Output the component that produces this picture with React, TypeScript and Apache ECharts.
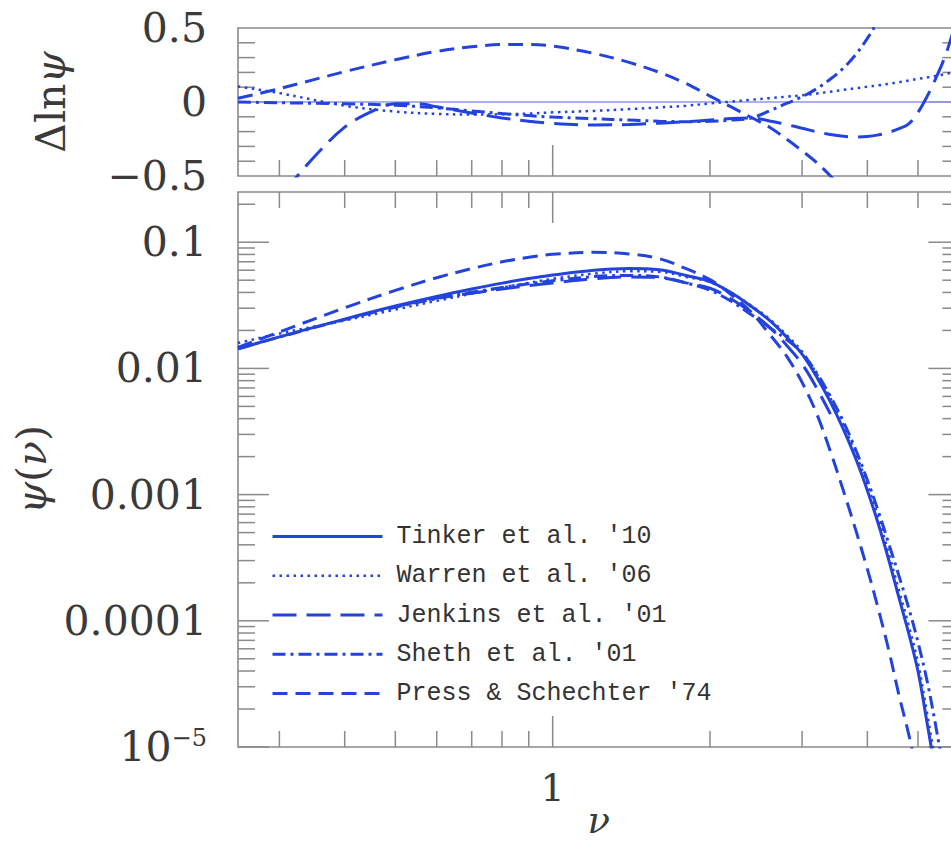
import React, { useEffect, useRef } from "react";
import * as echarts from "echarts";

// ---------- data ----------
const NU = [0.25, 0.3, 0.4, 0.5, 0.6, 0.7, 0.8, 0.9, 1.0, 1.2, 1.4, 1.6, 1.8, 2.0, 2.2, 2.4, 2.6, 2.8, 3.0, 3.2, 3.4, 3.6, 3.8, 4.0, 4.2, 4.4, 4.6, 4.8, 5.0, 5.2, 5.4, 5.6, 5.8, 6.0];

// lower panel: psi(nu)
const TINKER_PSI = [0.01429, 0.01778, 0.0246, 0.03119, 0.03715, 0.04256, 0.04742, 0.05152, 0.05495, 0.05998, 0.0618, 0.06053, 0.05445, 0.04875, 0.03954, 0.0309, 0.02399, 0.01778, 0.01297, 0.00857, 0.00541, 0.00329, 0.00193, 0.00108, 0.000582, 0.000299, 0.000151, 0.0000794, 0.0000398, 0.0000158, 0.0000063, 0.0000025, 0.0000008, 0.00000025];
const WARREN_PSI = [0.01588, 0.01888, 0.02399, 0.02924, 0.03428, 0.03908, 0.04365, 0.04764, 0.05129, 0.05649, 0.05888, 0.05834, 0.05309, 0.04831, 0.03963, 0.03136, 0.0246, 0.01845, 0.01358, 0.00908, 0.00579, 0.00357, 0.00211, 0.0012, 0.000652, 0.000337, 0.000173, 0.0000917, 0.0000465, 0.0000188, 0.0000076, 0.000003, 0.000001, 0.0000003];
const JENKINS_PSI = [null, null, null, 0.0309, 0.03606, 0.03945, 0.04256, 0.04529, 0.04753, 0.0514, 0.0531, 0.05248, 0.04764, 0.04315, 0.03532, 0.02773, 0.02118, 0.01531, 0.01084, 0.00698, 0.00434, null, null, null, null, null, null, null, null, null, null, null, null, null];
const SHETH_PSI = [0.0143, 0.0177, 0.02438, 0.03055, 0.03573, 0.04009, 0.04375, 0.04688, 0.04943, 0.05346, 0.05458, 0.05309, 0.04764, 0.0416, 0.0339, 0.0266, 0.02113, 0.01698, 0.01324, 0.00918, 0.006, 0.003776, 0.002265, 0.001303, 0.000733, 0.000403, 0.000225, 0.000126, 0.0000676, 0.0000339, 0.0000151, 0.0000063, 0.0000025, 0.000001];
const PS_PSI = [0.01466, 0.01945, 0.0302, 0.0415, 0.0523, 0.0618, 0.0699, 0.076, 0.0802, 0.0832, 0.0807, 0.074, 0.0617, 0.0505, 0.0382, 0.0278, 0.01862, 0.01259, 0.00776, 0.00437, 0.00219, 0.00107, 0.000525, 0.000257, 0.000123, 0.0000575, 0.0000255, 0.0000126, 0.0000056, 0.0000024, 0.0000009, 0.0000003, 0.0000001, 0.00000003];

// upper panel: Delta ln psi relative to Tinker et al. '10
const TINKER_DLN = NU.map(() => 0);
const WARREN_DLN = [0.105, 0.06, -0.025, -0.065, -0.08, -0.085, -0.083, -0.078, -0.07, -0.06, -0.048, -0.037, -0.025, -0.01, 0.003, 0.015, 0.026, 0.036, 0.045, 0.057, 0.07, 0.082, 0.093, 0.103, 0.113, 0.123, 0.134, 0.145, 0.156, 0.166, 0.176, 0.187, 0.198, 0.21];
const SHETH_DLN = [0.0, -0.005, -0.012, -0.022, -0.04, -0.06, -0.078, -0.092, -0.102, -0.113, -0.122, -0.13, -0.133, -0.13, -0.122, -0.108, -0.06, -0.01, 0.035, 0.09, 0.155, 0.229, 0.32, 0.43, 0.555, 0.7, null, null, null, null, null, null, null, null];
const PS_DLN = [0.025, 0.09, 0.205, 0.285, 0.342, 0.373, 0.388, 0.389, 0.378, 0.328, 0.268, 0.2, 0.125, 0.04, -0.035, -0.105, -0.17, -0.25, -0.33, -0.41, -0.5, -0.6, -0.7, -0.82, null, null, null, null, null, null, null, null, null, null];
const JENKINS_TOP_NU = [0.25, 0.3, 0.35, 0.4, 0.45, 0.5, 0.55, 0.6, 0.7, 0.8, 0.9, 1.0, 1.2, 1.4, 1.6, 1.8, 2.0, 2.2, 2.4, 2.6, 2.8, 3.0, 3.2, 3.4, 3.6, 3.8, 4.0, 4.2, 4.4, 4.6, 4.8, 5.0, 5.2, 5.4, 5.6, 5.8, 6.0];
const JENKINS_DLN = [-0.95, -0.64, -0.37, -0.17, -0.065, -0.012, -0.012, -0.032, -0.075, -0.108, -0.13, -0.145, -0.155, -0.152, -0.143, -0.133, -0.122, -0.112, -0.108, -0.128, -0.152, -0.177, -0.201, -0.22, -0.232, -0.236, -0.233, -0.222, -0.205, -0.18, -0.148, -0.07, 0.035, 0.155, 0.285, 0.445, 0.64];

const NAMES = ["Tinker et al. '10", "Warren et al. '06", "Jenkins et al. '01", "Sheth et al. '01", "Press & Schechter '74"];

// axes
const NU_RANGE = [0.25, 6];
const DLN_RANGE = [-0.5, 0.5];
const PSI_RANGE = [1e-5, 0.25];
const X_MINOR_TICKS = [0.3, 0.4, 0.5, 0.6, 0.7, 0.8, 0.9, 2, 3, 4, 5];
const X_MAJOR_TICKS = [1];
const DLN_MINOR_TICKS = [-0.4, -0.3, -0.2, -0.1, 0.1, 0.2, 0.3, 0.4];
const DLN_MAJOR_TICKS = [0];
const PSI_DECADES = [1e-5, 1e-4, 1e-3, 1e-2, 1e-1];

// ---------- helpers ----------
const pairs = (xs: number[], ys: (number | null)[]) =>
  xs.map((x, i) => [x, ys[i]]).filter((p) => p[1] !== null && p[1] !== undefined);

const BLUE = "#2343dc";
const FRAME = "#8a8a8a";
const SERIF = "'DejaVu Serif', serif";
const LBL = "#3a3a3a";
const MINOR = 17;
const MAJOR = 31;

const psiMinor: number[] = [];
PSI_DECADES.forEach((d) => {
  for (let k = 2; k <= 9; k++) {
    const v = k * d;
    if (v < PSI_RANGE[1]) psiMinor.push(v);
  }
});

function topTicks() {
  const t: number[][] = [];
  X_MINOR_TICKS.forEach((x) => t.push([x, DLN_RANGE[0], 0, -1, MINOR - 1]));
  X_MAJOR_TICKS.forEach((x) => t.push([x, DLN_RANGE[0], 0, -1, MAJOR]));
  DLN_MINOR_TICKS.forEach((y) => {
    t.push([NU_RANGE[0], y, 1, 0, MINOR]);
    t.push([NU_RANGE[1], y, -1, 0, MINOR]);
  });
  DLN_MAJOR_TICKS.forEach((y) => {
    t.push([NU_RANGE[0], y, 1, 0, MAJOR]);
    t.push([NU_RANGE[1], y, -1, 0, MAJOR]);
  });
  return t;
}

function bottomTicks() {
  const t: number[][] = [];
  X_MINOR_TICKS.forEach((x) => {
    t.push([x, PSI_RANGE[0], 0, -1, MINOR - 1]);
    t.push([x, PSI_RANGE[1], 0, 1, MINOR - 1]);
  });
  X_MAJOR_TICKS.forEach((x) => {
    t.push([x, PSI_RANGE[0], 0, -1, MAJOR]);
    t.push([x, PSI_RANGE[1], 0, 1, MAJOR]);
  });
  psiMinor.forEach((y) => {
    t.push([NU_RANGE[0], y, 1, 0, MINOR]);
    t.push([NU_RANGE[1], y, -1, 0, MINOR]);
  });
  PSI_DECADES.forEach((y) => {
    t.push([NU_RANGE[0], y, 1, 0, MAJOR]);
    t.push([NU_RANGE[1], y, -1, 0, MAJOR]);
  });
  return t;
}

const tickSeries = (xi: number, yi: number, data: number[][]) => ({
  type: "custom",
  xAxisIndex: xi,
  yAxisIndex: yi,
  silent: true,
  clip: false,
  z: 1,
  data,
  renderItem: (_p: any, api: any) => {
    const p = api.coord([api.value(0), api.value(1)]);
    const dx = api.value(2);
    const dy = api.value(3);
    const len = api.value(4);
    return {
      type: "line",
      shape: { x1: p[0], y1: p[1], x2: p[0] + dx * len, y2: p[1] + dy * len },
      style: { stroke: FRAME, lineWidth: 1.5 },
    };
  },
});

const STYLES: Record<string, any> = {
  [NAMES[0]]: { type: "solid", width: 3 },
  [NAMES[1]]: { type: [2.5, 4.5], width: 2.5 },
  [NAMES[2]]: { type: [24, 10], width: 3 },
  [NAMES[3]]: { type: [13, 5, 3, 5], width: 3 },
  [NAMES[4]]: { type: [15, 8], width: 3 },
};

const lineSeries = (name: string, xi: number, yi: number, data: any[], override?: any) => ({
  type: "line",
  name,
  xAxisIndex: xi,
  yAxisIndex: yi,
  data,
  symbol: "none",
  smooth: 0.35,
  clip: true,
  z: 3,
  lineStyle: { color: BLUE, ...STYLES[name], ...(override || {}) },
  itemStyle: { color: BLUE },
});

const logLabel = (v: number) => {
  const e = Math.round(Math.log10(v));
  if (Math.abs(Math.log10(v) - e) > 0.01) return "";
  if (e === -5) return "{b|10}{s|\u22125}";
  return "0." + "0".repeat(-e - 1) + "1";
};

export default function App() {
  const ref = useRef<HTMLDivElement>(null);
  useEffect(() => {
    if (!ref.current) return;
    const chart = echarts.init(ref.current, null, { renderer: "svg" });
    const axisCommon = {
      axisLine: { show: false },
      axisTick: { show: false },
      splitLine: { show: false },
      minorTick: { show: false },
    };
    const option: any = {
      animation: false,
      backgroundColor: "#ffffff",
      grid: [
        { left: 238, top: 28, width: 721.4, height: 148, outerBoundsMode: "none", containLabel: false, show: true, borderColor: FRAME, borderWidth: 1.6, backgroundColor: "transparent" },
        { left: 238, top: 192, width: 721.4, height: 555, outerBoundsMode: "none", containLabel: false, show: true, borderColor: FRAME, borderWidth: 1.6, backgroundColor: "transparent" },
      ],
      xAxis: [
        { type: "log", logBase: 10, gridIndex: 0, min: NU_RANGE[0], max: NU_RANGE[1], ...axisCommon, axisLabel: { show: false } },
        {
          type: "log", logBase: 10, gridIndex: 1, min: NU_RANGE[0], max: NU_RANGE[1], ...axisCommon,
          axisLabel: {
            show: true, margin: 22, fontFamily: SERIF, fontSize: 38, color: LBL,
            formatter: (v: number) => (Math.abs(Math.log10(v)) < 0.01 ? "1" : ""),
          },
          name: "\u03bd", nameLocation: "middle", nameGap: 55, nameMoveOverlap: false,
          nameTextStyle: { fontFamily: SERIF, fontSize: 37, fontStyle: "italic", color: LBL },
        },
      ],
      yAxis: [
        {
          type: "value", gridIndex: 0, min: DLN_RANGE[0], max: DLN_RANGE[1], interval: 0.5, ...axisCommon,
          axisLabel: {
            margin: 31, fontFamily: SERIF, fontSize: 41, color: LBL,
            formatter: (v: number) => (v === 0 ? "0" : (v < 0 ? "\u2212" : "") + Math.abs(v)),
          },
          name: "{u|\u0394ln}{i|\u03c8}", nameLocation: "middle", nameGap: 167, nameRotate: 90,
          nameTextStyle: {
            color: LBL, fontFamily: SERIF, fontSize: 41,
            rich: {
              u: { fontFamily: SERIF, fontSize: 41, color: LBL },
              i: { fontFamily: SERIF, fontSize: 41, color: LBL, fontStyle: "italic" },
            },
          },
        },
        {
          type: "log", logBase: 10, gridIndex: 1, min: PSI_RANGE[0], max: PSI_RANGE[1], ...axisCommon,
          axisLabel: {
            margin: 31, fontFamily: SERIF, fontSize: 41, color: LBL,
            formatter: logLabel,
            rich: {
              b: { fontFamily: SERIF, fontSize: 41, color: LBL },
              s: { fontFamily: SERIF, fontSize: 24, color: LBL, padding: [0, 0, 18, 0] },
            },
          },
          name: "{i|\u03c8}{u|(}{i|\u03bd}{u|)}", nameLocation: "middle", nameGap: 186, nameRotate: 90,
          nameTextStyle: {
            color: LBL, fontFamily: SERIF, fontSize: 41,
            rich: {
              u: { fontFamily: SERIF, fontSize: 41, color: LBL },
              i: { fontFamily: SERIF, fontSize: 41, color: LBL, fontStyle: "italic" },
            },
          },
        },
      ],
      legend: {
        data: NAMES,
        orient: "vertical",
        left: 271,
        top: 524,
        padding: 0,
        itemWidth: 110,
        itemHeight: 25,
        itemGap: 14.25,
        selectedMode: false,
        textStyle: { fontFamily: "'Liberation Mono', monospace", fontSize: 25, color: "#333", padding: [0, 0, 0, 9] },
        itemStyle: { color: "rgba(0,0,0,0)", borderColor: "rgba(0,0,0,0)", borderWidth: 0 },
        lineStyle: { width: "inherit", type: "inherit", color: "inherit" },
      },
      series: [
        lineSeries(NAMES[0], 1, 1, pairs(NU, TINKER_PSI)),
        lineSeries(NAMES[1], 1, 1, pairs(NU, WARREN_PSI)),
        lineSeries(NAMES[2], 1, 1, pairs(NU, JENKINS_PSI)),
        lineSeries(NAMES[3], 1, 1, pairs(NU, SHETH_PSI)),
        lineSeries(NAMES[4], 1, 1, pairs(NU, PS_PSI)),
        lineSeries(NAMES[0], 0, 0, pairs(NU, TINKER_DLN), { color: "#9098ea", width: 1.5 }),
        lineSeries(NAMES[1], 0, 0, pairs(NU, WARREN_DLN)),
        lineSeries(NAMES[2], 0, 0, pairs(JENKINS_TOP_NU, JENKINS_DLN)),
        lineSeries(NAMES[3], 0, 0, pairs(NU, SHETH_DLN)),
        lineSeries(NAMES[4], 0, 0, pairs(NU, PS_DLN)),
        tickSeries(0, 0, topTicks()),
        tickSeries(1, 1, bottomTicks()),
      ],
    };
    chart.setOption(option);
    return () => chart.dispose();
  }, []);
  return (
    <div style={{ position: "absolute", left: 0, top: 0, width: 951, height: 850, overflow: "hidden" }}>
      <div ref={ref} style={{ width: 951, height: 850 }} />
    </div>
  );
}
